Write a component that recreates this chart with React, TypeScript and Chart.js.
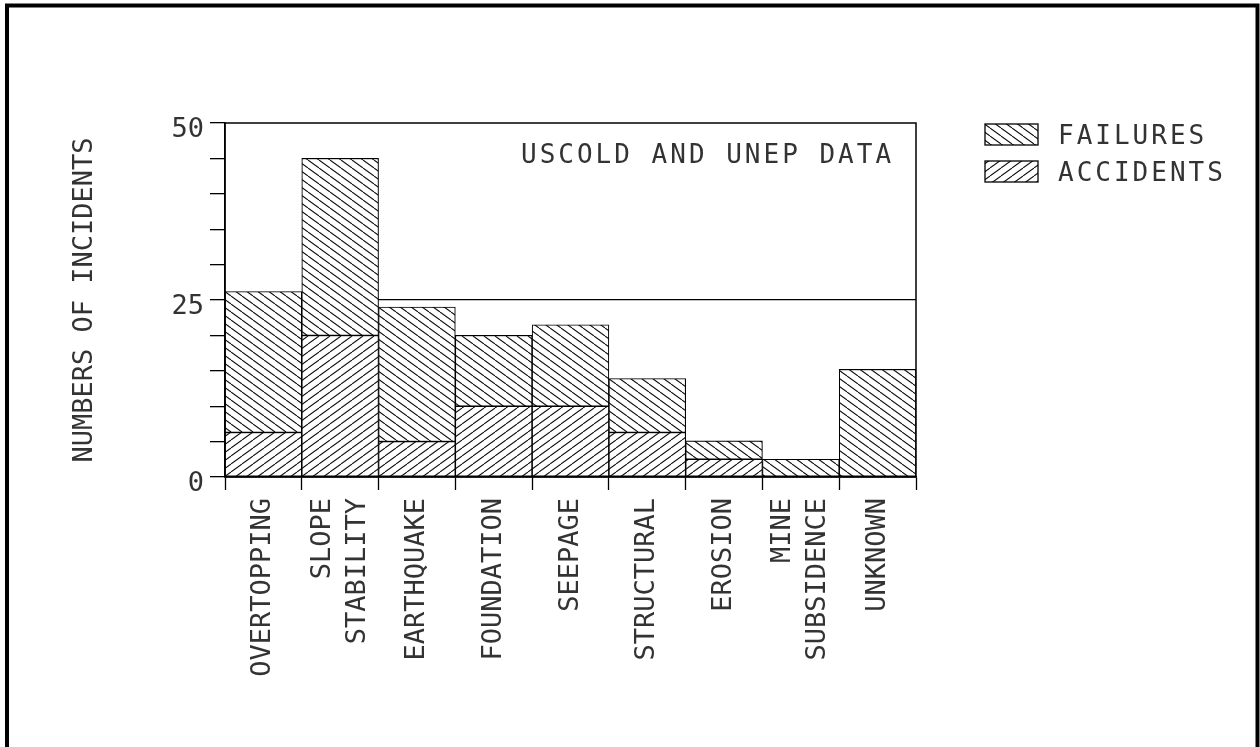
import { useEffect, useRef } from "react";
import { Chart, registerables } from "chart.js";

Chart.register(...registerables);

const categories: (string | string[])[] = [
  "OVERTOPPING",
  ["SLOPE", "STABILITY"],
  "EARTHQUAKE",
  "FOUNDATION",
  "SEEPAGE",
  "STRUCTURAL",
  "EROSION",
  ["MINE", "SUBSIDENCE"],
  "UNKNOWN",
];
const accidents = [6.3, 20, 5, 10, 10, 6.3, 2.5, 0, 0];
const failures = [19.9, 25, 19, 10, 11.5, 7.6, 2.6, 2.5, 15.2];
const yTickLabels = [0, 25, 50];
const gridValue = 25;
const seriesNames = { failures: "FAILURES", accidents: "ACCIDENTS" };
const chartNote = "USCOLD AND UNEP DATA";
const yTitle = "NUMBERS OF INCIDENTS";

const FONT = '"DejaVu Sans Mono", "Liberation Mono", monospace';
const TEXT = "#333";

function makeHatch(dir: 1 | -1): CanvasPattern {
  const w = 11;
  const h = 8;
  const c = document.createElement("canvas");
  c.width = w;
  c.height = h;
  const g = c.getContext("2d")!;
  g.fillStyle = "#fff";
  g.fillRect(0, 0, w, h);
  g.strokeStyle = "#111";
  g.lineWidth = 1.1;
  g.beginPath();
  for (let k = -1; k <= 1; k++) {
    if (dir === 1) {
      g.moveTo(k * w, 0);
      g.lineTo(k * w + w, h);
    } else {
      g.moveTo(k * w, h);
      g.lineTo(k * w + w, 0);
    }
  }
  g.stroke();
  return g.createPattern(c, "repeat")!;
}

export default function App() {
  const ref = useRef<HTMLCanvasElement | null>(null);

  useEffect(() => {
    document.body.style.margin = "0";
    const canvas = ref.current!;
    const hatchFail = makeHatch(1);
    const hatchAcc = makeHatch(-1);

    const decor = {
      id: "decor",
      beforeDraw(chart: any) {
        const ctx = chart.ctx as CanvasRenderingContext2D;
        ctx.save();
        ctx.fillStyle = "#fff";
        ctx.fillRect(0, 0, chart.width, chart.height);
        ctx.strokeStyle = "#000";
        ctx.lineWidth = 4;
        ctx.beginPath();
        ctx.moveTo(7, 760);
        ctx.lineTo(7, 5.5);
        ctx.lineTo(1257.5, 5.5);
        ctx.lineTo(1257.5, 760);
        ctx.stroke();
        ctx.restore();
        // centre multi-line category labels on their category
        const xs = chart.scales.x;
        const items = xs.getLabelItems(chart.chartArea);
        for (const it of items) {
          if (Array.isArray(it.label) && !it._centered) {
            it.textOffset -= ((it.label.length - 1) * it.font.lineHeight) / 2;
            it._centered = true;
          }
        }
      },
      afterDatasetsDraw(chart: any) {
        const ctx = chart.ctx as any;
        const a = chart.chartArea;
        ctx.save();
        ctx.strokeStyle = "#000";
        ctx.lineWidth = 1.5;
        ctx.strokeRect(a.left, a.top, a.right - a.left, a.bottom - a.top);

        ctx.font = `26px ${FONT}`;
        ctx.letterSpacing = "3px";
        ctx.fillStyle = TEXT;
        ctx.textBaseline = "alphabetic";
        ctx.textAlign = "left";
        ctx.fillText(chartNote, 521, 163);

        const rows = [
          { name: seriesNames.failures, pat: hatchFail, top: 124 },
          { name: seriesNames.accidents, pat: hatchAcc, top: 161 },
        ];
        for (const r of rows) {
          ctx.fillStyle = r.pat;
          ctx.fillRect(985, r.top, 53, 21);
          ctx.lineWidth = 1.3;
          ctx.strokeStyle = "#000";
          ctx.strokeRect(985, r.top, 53, 21);
          ctx.fillStyle = TEXT;
          ctx.fillText(r.name, 1058, r.top + 20);
        }
        ctx.letterSpacing = "0px";
        ctx.restore();
      },
    };

    const chart = new Chart(canvas, {
      type: "bar",
      data: {
        labels: categories,
        datasets: [
          {
            label: seriesNames.accidents,
            data: accidents,
            backgroundColor: hatchAcc,
            borderColor: "#000",
            borderWidth: 1.1,
            borderSkipped: false,
            barPercentage: 1,
            categoryPercentage: 1,
          },
          {
            label: seriesNames.failures,
            data: failures,
            backgroundColor: hatchFail,
            borderColor: "#000",
            borderWidth: 1.1,
            borderSkipped: false,
            barPercentage: 1,
            categoryPercentage: 1,
          },
        ],
      },
      options: {
        animation: false,
        responsive: false,
        events: [],
        layout: { padding: { left: 63, top: 123, right: 344, bottom: 0 } },
        plugins: {
          legend: { display: false },
          tooltip: { enabled: false },
        },
        scales: {
          x: {
            stacked: true,
            grid: {
              offset: true,
              drawOnChartArea: false,
              tickLength: 13,
              tickColor: "#000",
              tickWidth: 1.3,
            },
            border: { display: true, color: "#000", width: 1.5 },
            ticks: {
              autoSkip: false,
              minRotation: 90,
              maxRotation: 90,
              padding: 8,
              color: TEXT,
              font: { family: FONT, size: 27, lineHeight: 1.3 },
            },
            afterFit: (s: any) => {
              s.height = 270;
            },
          },
          y: {
            stacked: true,
            min: 0,
            max: 50,
            ticks: {
              stepSize: 5,
              padding: 6,
              labelOffset: 7,
              color: TEXT,
              font: { family: FONT, size: 27 },
              callback: (v: any) => (yTickLabels.includes(Number(v)) ? String(v) : ""),
            },
            grid: {
              color: (c: any) =>
                c.tick && c.tick.value === gridValue ? "#000" : "rgba(0,0,0,0)",
              lineWidth: 1.3,
              tickColor: "#000",
              tickWidth: 1.3,
              tickLength: 15,
            },
            border: { display: true, color: "#000", width: 1.5 },
            title: {
              display: true,
              text: yTitle,
              color: TEXT,
              font: { family: FONT, size: 27 },
              padding: { top: 6, bottom: 4 },
            },
            afterFit: (s: any) => {
              s.width = 225 - 63;
            },
          },
        },
      },
      plugins: [decor],
    });
    return () => chart.destroy();
  }, []);

  return (
    <canvas
      ref={ref}
      width={1260}
      height={747}
      style={{ display: "block", width: 1260, height: 747 }}
    />
  );
}
